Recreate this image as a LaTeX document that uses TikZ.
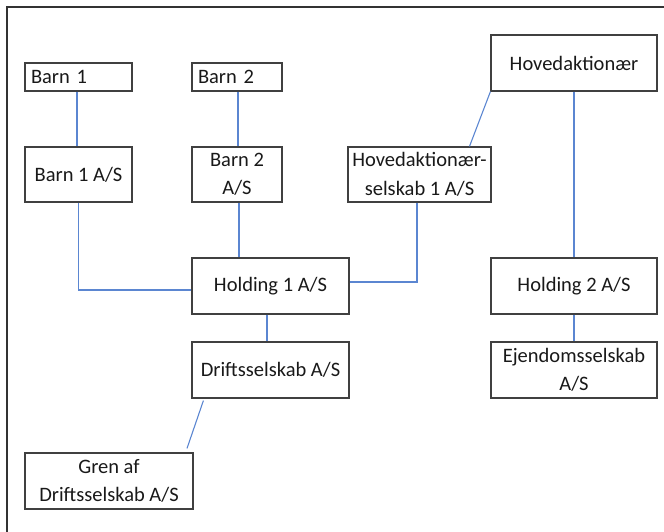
\documentclass[tikz,border=0pt]{standalone}
\usepackage{fontspec}
\setmainfont{Carlito}
\usetikzlibrary{positioning}
\definecolor{linkblue}{HTML}{5B86D1}
\definecolor{boxgray}{HTML}{404040}
\definecolor{framegray}{HTML}{333333}
\tikzset{
  entity/.style={draw=boxgray, line width=1.2pt, rectangle, inner sep=0pt,
    align=center, font=\fontsize{20.5}{28.5}\selectfont, text=black!90},
  leftentity/.style={draw=boxgray, line width=1.2pt, rectangle, inner sep=0pt,
    inner xsep=6pt, font=\fontsize{20.5}{28.5}\selectfont, text=black!90},
  link/.style={draw=linkblue, line width=1.1pt},
}
\begin{document}
\begin{tikzpicture}[x=1pt,y=-1pt]
\useasboundingbox (0,0) rectangle (664,532);
\clip (0,0) rectangle (664,532);
% outer frame (open to the right and bottom)
\draw[framegray, line width=1.2pt] (7,540) -- (7,7) -- (670,7);

% owners and holding companies
\node[leftentity, minimum width=107pt, minimum height=28pt, text width=95pt] (b1) at (78.5,77) {\noindent Barn 1};
\node[leftentity, minimum width=90pt, minimum height=28pt, text width=78pt] (b2) at (237,77) {\noindent Barn 2};
\node[entity, minimum width=166pt, minimum height=56pt] (hv) at (574,63) {Hovedaktionær};

\node[entity, minimum width=107pt, minimum height=55pt] (b1as) at (78.5,174.5) {Barn 1 A/S};
\node[entity, minimum width=90pt, minimum height=55pt] (b2as) at (237,174.5) {Barn 2\\A/S};
\node[entity, minimum width=143pt, minimum height=55pt] (hs) at (419.5,174.5) {Hovedaktionær-\\selskab 1 A/S};

\node[entity, minimum width=157pt, minimum height=56pt] (h1) at (270.5,286) {Holding 1 A/S};
\node[entity, minimum width=166pt, minimum height=56pt] (h2) at (574,286) {Holding 2 A/S};

\node[entity, minimum width=157pt, minimum height=56pt] (dr) at (270.5,370) {Driftsselskab A/S};
\node[entity, minimum width=166pt, minimum height=56pt] (ej) at (574,370) {Ejendomsselskab\\A/S};

\node[entity, minimum width=168pt, minimum height=56pt] (gr) at (109,481) {Gren af\\Driftsselskab A/S};

% ownership links
\draw[link] ([xshift=-1.5pt]b1.south) -- ([xshift=-1.5pt]b1as.north);
\draw[link] ([xshift=1pt]b2.south) -- ([xshift=1pt]b2as.north);
\draw[link] (b1as.south) |- ([yshift=-4pt]h1.west);
\draw[link] ([xshift=2pt]b2as.south) -- ([xshift=2pt]b2as.south |- h1.north);
\draw[link] ([xshift=-2.5pt]hs.south) |- ([yshift=4pt]h1.east);
\draw[link] (hv.south west) -- ([xshift=50pt]hs.north);
\draw[link] (hv.south) -- (h2.north);
\draw[link] ([xshift=-3.5pt]h1.south) -- ([xshift=-3.5pt]dr.north);
\draw[link] (h2.south) -- (ej.north);
\draw[link] ([xshift=12pt,yshift=-2pt]dr.south west) -- ([xshift=78pt,yshift=4pt]gr.north);
\end{tikzpicture}
\end{document}
